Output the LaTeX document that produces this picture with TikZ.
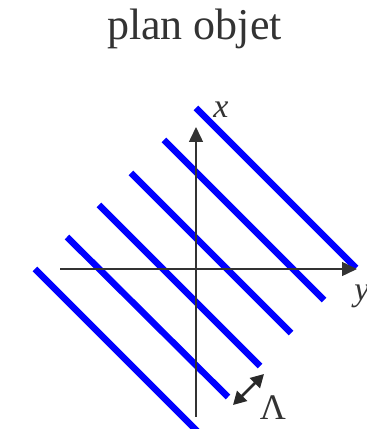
\documentclass[tikz,border=0pt]{standalone}
\usepackage{fontspec}
\setmainfont{Liberation Serif}
\usetikzlibrary{arrows.meta}
\definecolor{axisgray}{HTML}{333333}
\definecolor{fringeblue}{HTML}{0000FF}
\tikzset{
  axisline/.style={draw=axisgray, line width=1.5pt, -{Triangle[length=15pt,width=14pt]}},
  fringe/.style={draw=fringeblue, line width=6.5pt},
  period/.style={draw=axisgray!80!black, line width=2.5pt, {Triangle[length=13pt,width=14pt]}-{Triangle[length=13pt,width=14pt]}},
  lbl/.style={font=\fontsize{34}{38}\selectfont\itshape, text=axisgray, inner sep=0pt}
}
\begin{document}
\begin{tikzpicture}[x=1pt,y=1pt]
\useasboundingbox (0,0) rectangle (367,429);
% title
\node[anchor=base, font=\fontsize{44}{48}\selectfont, text=axisgray, inner sep=0pt] (title) at (194.5,389.5) {plan objet};
% fringes
\foreach \i/\sx/\sy/\ex/\ey in {1/196/108/356/268, 2/164/140/324/300, 3/131/173/291/333, 4/99/205/260/366, 5/67/237/228/397, 6/35/269/197/431}{
  \coordinate (s\i) at (\sx,429-\sy);
  \coordinate (e\i) at (\ex,429-\ey);
  \draw[fringe] (s\i) -- (e\i);
}
% axes
\coordinate (ybot) at (196,429-417);
\coordinate (ytop) at (196,429-127);
\coordinate (xleft) at (60,429-269);
\coordinate (xright) at (357,429-269);
\draw[axisline] (ybot) -- (ytop);
\draw[axisline] (xleft) -- (xright);
\node[lbl] (xl) at (221,429-110) {x};
\node[lbl] (yl) at (362,429-296) {y};
% period arrow
\coordinate (pa) at (233,429-405);
\coordinate (pb) at (264,429-374);
\draw[period] (pa) -- (pb);
\node[font=\fontsize{36}{40}\selectfont, text=axisgray, inner sep=0pt] (lam) at (273,429-408) {Λ};
\end{tikzpicture}
\end{document}
